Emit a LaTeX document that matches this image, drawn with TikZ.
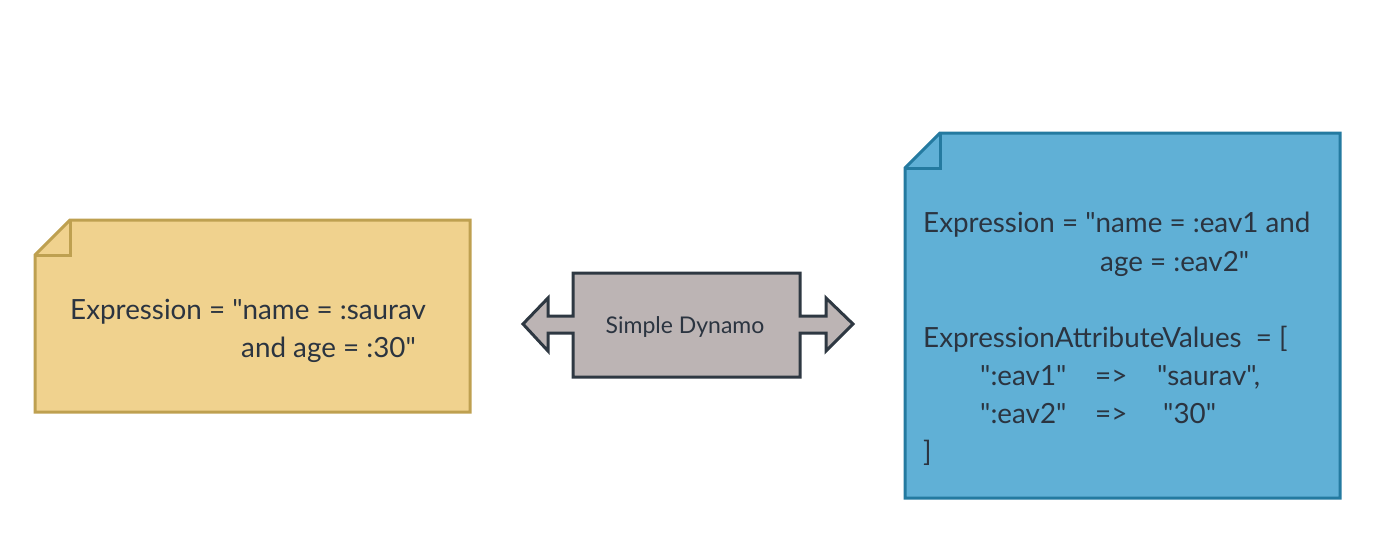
\documentclass[tikz,border=0pt]{standalone}
\usepackage{fontspec}
\setmainfont{Lato}[Ligatures=TeXOff]
\newcommand{\dq}{"}
\definecolor{ynfill}{RGB}{240,210,142}
\definecolor{ynline}{RGB}{190,160,80}
\definecolor{bnfill}{RGB}{96,176,214}
\definecolor{bnline}{RGB}{36,122,160}
\definecolor{gfill}{RGB}{188,180,180}
\definecolor{gline}{RGB}{46,56,66}
\definecolor{txt}{RGB}{43,52,64}
\begin{document}
\begin{tikzpicture}[x=1pt,y=-1pt,
  txtline/.style={anchor=base west,inner sep=0pt,text=txt,font=\fontsize{27.8}{33}\selectfont},
  noteshape/.style={line width=3pt,line join=miter}]
\useasboundingbox (0,0) rectangle (1400,533);
% yellow note
\draw[noteshape,draw=ynline,fill=ynfill] (35,255) -- (70,220) -- (470,220) -- (470,412) -- (35,412) -- cycle;
\draw[noteshape,draw=ynline] (70,220) -- (70,255) -- (35,255);
\node[txtline] (l1) at (70,319) {Expression = \dq name = :saurav};
\node[txtline] (l2) at (241,357) {and age = :30\dq};
% blue note
\draw[noteshape,draw=bnline,fill=bnfill] (905,168) -- (940,133) -- (1340,133) -- (1340,498) -- (905,498) -- cycle;
\draw[noteshape,draw=bnline] (940,133) -- (940,168) -- (905,168);
\node[txtline] (r1) at (923,232.5) {Expression = \dq name = :eav1 and};
\node[txtline] (r2) at (1100,271) {age = :eav2\dq};
\node[txtline] (r3) at (923,347.5) {ExpressionAttributeValues\ \ = [};
\node[txtline] (r4a) at (980,385.5) {\dq:eav1\dq};
\node[txtline] (r4b) at (1095,385.5) {=>};
\node[txtline] (r4c) at (1157,385.5) {\dq saurav\dq,};
\node[txtline] (r5a) at (980,423.5) {\dq:eav2\dq};
\node[txtline] (r5b) at (1095,423.5) {=>};
\node[txtline] (r5c) at (1163,423.5) {\dq 30\dq};
\node[txtline] (r6) at (923,461) {]};
% double arrow box
\draw[line width=3pt,draw=gline,fill=gfill,line join=miter]
  (523,324) -- (548,298) -- (548,316) -- (573,316) -- (573,273) -- (800,273) -- (800,316)
  -- (826,316) -- (826,298) -- (853,324) -- (826,351) -- (826,333) -- (800,333)
  -- (800,377) -- (573,377) -- (573,333) -- (548,333) -- (548,351) -- cycle;
\node[anchor=base,inner sep=0pt,text=txt,font=\fontsize{23}{27}\selectfont] (sd) at (685,333) {Simple Dynamo};
\end{tikzpicture}
\end{document}
